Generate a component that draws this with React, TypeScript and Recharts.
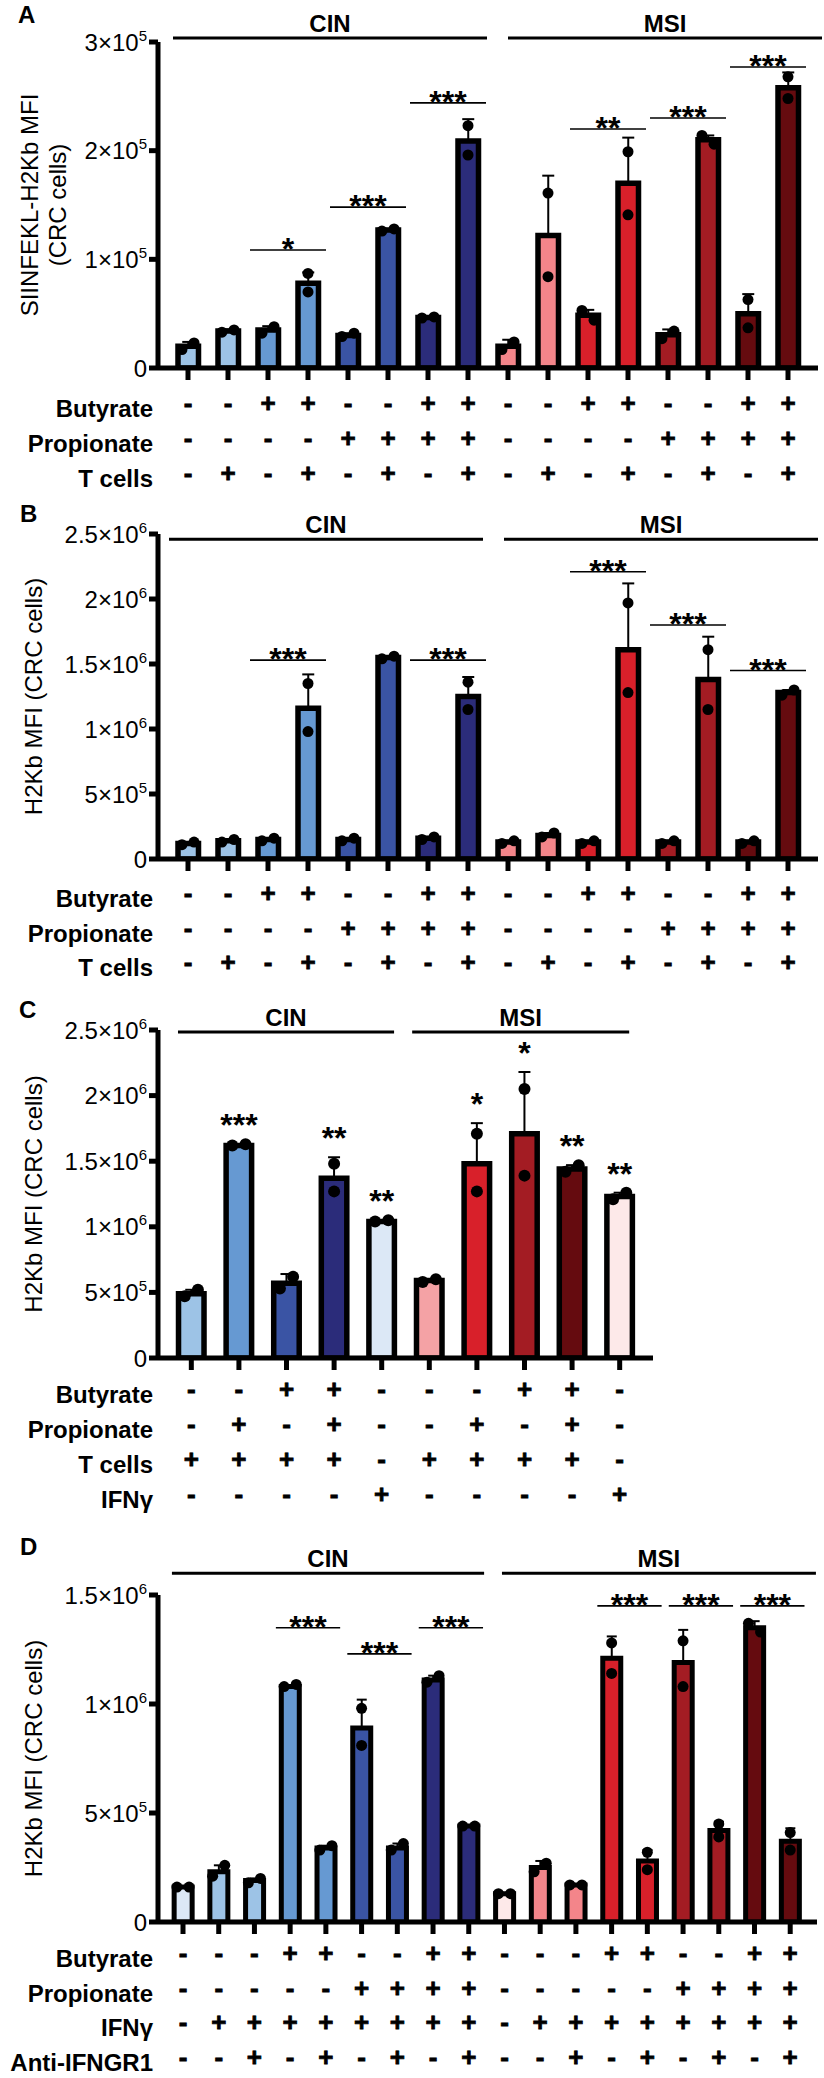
import React from 'react';
import {
  ComposedChart,
  Bar,
  Cell,
  ErrorBar,
  Scatter,
  XAxis,
  YAxis,
  ReferenceLine,
} from 'recharts';

const FONT = '"Liberation Sans", Arial, Helvetica, sans-serif';

const PALE_BLUE = '#dce8f6';
const LIGHT_BLUE = '#9dc3e6';
const MID_BLUE = '#6699d2';
const ROYAL = '#3a54a4';
const NAVY = '#2b2c7a';
const PALE_PINK = '#fde9e9';
const PINK = '#f4a2a5';
const SALMON = '#f3858a';
const RED = '#d8202a';
const DARK_RED = '#a31c23';
const MAROON = '#650b0f';

// ---- panel A: SIINFEKL-H2Kb ----
const meanA = [20000, 34000, 35000, 78000, 30000, 127000, 46500, 209000, 20000, 122000, 48500, 170000, 30500, 210000, 50000, 258000];
const errA = [4000, 1500, 3500, 10000, 2000, 1000, 500, 20000, 6000, 55000, 5000, 42000, 5000, 4000, 18000, 14000];
const dotA1 = [17000, 33000, 32000, 87000, 29000, 126000, 46000, 223000, 17000, 161000, 53000, 199000, 27000, 214000, 63000, 268000];
const dotA2 = [23000, 35000, 38000, 70000, 32000, 128000, 47000, 196000, 24000, 84000, 44000, 141000, 34000, 206000, 37000, 248000];
const colorsA = [LIGHT_BLUE, LIGHT_BLUE, MID_BLUE, MID_BLUE, ROYAL, ROYAL, NAVY, NAVY, SALMON, SALMON, RED, RED, DARK_RED, DARK_RED, MAROON, MAROON];
const sigPairsA = [[3, 4], [5, 6], [7, 8], [11, 12], [13, 14], [15, 16]];
const sigTextA = ['*', '***', '***', '**', '***', '***'];
const sigLevelA = [108600, 148000, 244000, 220000, 230000, 277000];

// ---- panel B: H2Kb ----
const meanB = [120000, 140000, 150000, 1160000, 150000, 1550000, 160000, 1250000, 130000, 180000, 130000, 1610000, 130000, 1380000, 130000, 1280000];
const errB = [10000, 10000, 10000, 260000, 10000, 10000, 10000, 150000, 10000, 20000, 10000, 510000, 10000, 330000, 10000, 20000];
const dotB1 = [110000, 130000, 140000, 1350000, 140000, 1540000, 150000, 1360000, 120000, 170000, 120000, 1970000, 120000, 1610000, 120000, 1260000];
const dotB2 = [130000, 150000, 160000, 980000, 160000, 1560000, 170000, 1150000, 140000, 200000, 140000, 1280000, 140000, 1150000, 140000, 1300000];
const sigPairsB = [[3, 4], [7, 8], [11, 12], [13, 14], [15, 16]];
const sigTextB = ['***', '***', '***', '***', '***'];
const sigLevelB = [1530000, 1530000, 2210000, 1800000, 1450000];

const butyrate16 = ['-', '-', '+', '+', '-', '-', '+', '+', '-', '-', '+', '+', '-', '-', '+', '+'];
const propionate16 = ['-', '-', '-', '-', '+', '+', '+', '+', '-', '-', '-', '-', '+', '+', '+', '+'];
const tcells16 = ['-', '+', '-', '+', '-', '+', '-', '+', '-', '+', '-', '+', '-', '+', '-', '+'];

// ---- panel C: H2Kb with IFNg control ----
const meanC = [490000, 1620000, 570000, 1370000, 1040000, 590000, 1480000, 1710000, 1440000, 1230000];
const errC = [30000, 5000, 70000, 160000, 5000, 10000, 310000, 470000, 30000, 30000];
const dotC1 = [470000, 1620000, 530000, 1480000, 1040000, 580000, 1710000, 2050000, 1420000, 1210000];
const dotC2 = [520000, 1630000, 620000, 1270000, 1050000, 600000, 1270000, 1390000, 1470000, 1260000];
const colorsC = [LIGHT_BLUE, MID_BLUE, ROYAL, NAVY, PALE_BLUE, PINK, RED, DARK_RED, MAROON, PALE_PINK];
const starsC = ['', '***', '', '**', '**', '', '*', '*', '**', '**'];
const butyrateC = ['-', '-', '+', '+', '-', '-', '-', '+', '+', '-'];
const propionateC = ['-', '+', '-', '+', '-', '-', '+', '-', '+', '-'];
const tcellsC = ['+', '+', '+', '+', '-', '+', '+', '+', '+', '-'];
const ifngC = ['-', '-', '-', '-', '+', '-', '-', '-', '-', '+'];

// ---- panel D: H2Kb with anti-IFNGR1 ----
const meanD = [160000, 230000, 190000, 1080000, 340000, 890000, 340000, 1110000, 440000, 130000, 250000, 170000, 1210000, 280000, 1190000, 420000, 1350000, 370000];
const errD = [3000, 30000, 10000, 5000, 10000, 130000, 20000, 20000, 3000, 3000, 30000, 3000, 100000, 50000, 150000, 40000, 30000, 60000];
const dotD1 = [160000, 210000, 180000, 1080000, 330000, 980000, 330000, 1100000, 440000, 130000, 230000, 170000, 1280000, 320000, 1290000, 450000, 1370000, 410000];
const dotD2 = [160000, 260000, 200000, 1090000, 350000, 810000, 360000, 1130000, 440000, 130000, 270000, 170000, 1140000, 240000, 1080000, 390000, 1330000, 330000];
const colorsD = [PALE_BLUE, LIGHT_BLUE, LIGHT_BLUE, MID_BLUE, MID_BLUE, ROYAL, ROYAL, NAVY, NAVY, PALE_PINK, SALMON, SALMON, RED, RED, DARK_RED, DARK_RED, MAROON, MAROON];
const sigPairsD = [[4, 5], [6, 7], [8, 9], [13, 14], [15, 16], [17, 18]];
const sigTextD = ['***', '***', '***', '***', '***', '***'];
const sigLevelD = [1350000, 1230000, 1350000, 1450000, 1450000, 1450000];
const butyrateD = ['-', '-', '-', '+', '+', '-', '-', '+', '+', '-', '-', '-', '+', '+', '-', '-', '+', '+'];
const propionateD = ['-', '-', '-', '-', '-', '+', '+', '+', '+', '-', '-', '-', '-', '-', '+', '+', '+', '+'];
const ifngD = ['-', '+', '+', '+', '+', '+', '+', '+', '+', '-', '+', '+', '+', '+', '+', '+', '+', '+'];
const antiD = ['-', '-', '+', '-', '+', '-', '+', '-', '+', '-', '-', '+', '-', '+', '-', '+', '-', '+'];

const groupNames = ['CIN', 'MSI'];

type Row = { label: string; marks: string[] };

type PanelProps = {
  top: number;
  height: number;
  marginTop: number;
  marginRight: number;
  axisHeight: number;
  means: number[];
  errs: number[];
  dots1: number[];
  dots2: number[];
  colors: string[];
  yMax: number;
  yTicks: number[];
  xDomain: [number, number];
  barSize: number;
  borderW: number;
  dotR: number;
  capW: number;
  rows: Row[];
  rowFirst: number;
  rowGap: number;
  title: string[];
  titleX: number[];
  sigPairs?: number[][];
  sigText?: string[];
  sigLevels?: number[];
  sigPad: number;
  groupSpans: number[][];
  groupLevel: number;
  stars?: string[];
};

const sci = (v: number): [string, number | null] => {
  if (v === 0) return ['0', null];
  const e = Math.floor(Math.log10(v) + 1e-9);
  const m = v / Math.pow(10, e);
  return [String(+m.toFixed(1)), e];
};

const YTick = (props: any) => {
  const { x, y, payload } = props;
  const [m, e] = sci(payload.value);
  return (
    <text x={x} y={y + 8.5} textAnchor="end" fontSize={24} fill="#000" fontFamily={FONT}>
      {e === null ? m : (
        <>
          {m}×10
          <tspan fontSize={15} dy={-10}>{e}</tspan>
        </>
      )}
    </text>
  );
};

const makeXTick = (rows: Row[], first: number, gap: number, tickSize: number) => (props: any) => {
  const { x, y, payload } = props;
  const i = payload.value - 1;
  const axisY = y - tickSize - 2;
  return (
    <g>
      {rows.map((r, k) => {
        const base = axisY + first + k * gap;
        return (
          <g key={k}>
            {i === 0 && (
              <text x={153} y={base} textAnchor="end" fontSize={24} fontWeight="bold" fill="#000" fontFamily={FONT}>
                {r.label}
              </text>
            )}
            <text
              x={x}
              y={base - 5}
              textAnchor="middle"
              fontSize={26}
              fontWeight="bold"
              fill="#000"
              stroke="#000"
              strokeWidth={0.8}
              fontFamily={FONT}
            >
              {r.marks[i]}
            </text>
          </g>
        );
      })}
    </g>
  );
};

const makeYTitle = (lines: string[], xs: number[]) => (props: any) => {
  const vb = props.viewBox || { x: 0, y: 0, width: 0, height: 0 };
  const cy = vb.y + vb.height / 2;
  return (
    <g>
      {lines.map((t, k) => (
        <text
          key={k}
          x={xs[k]}
          y={cy}
          transform={`rotate(-90 ${xs[k]} ${cy})`}
          textAnchor="middle"
          dominantBaseline="central"
          fontSize={24}
          fill="#000"
          fontFamily={FONT}
        >
          {t}
        </text>
      ))}
    </g>
  );
};

const dotShape = (side: number, r: number, pxPerUnit: number) => (props: any) => {
  const { cx, cy, payload } = props;
  if (cx == null || cy == null) return <g />;
  const close = Math.abs(payload.p1 - payload.p2) * pxPerUnit < 2 * r;
  const dx = close ? side * r * 1.1 : 0;
  return <circle cx={cx + dx} cy={cy} r={r} fill="#000" />;
};

const starShape = (props: any) => {
  const { cx, cy, payload } = props;
  if (!payload.star || cx == null) return <g />;
  return (
    <text x={cx} y={cy - 8} textAnchor="middle" fontSize={32} fontWeight="bold" fill="#000" fontFamily={FONT}>
      {payload.star}
    </text>
  );
};

const sigLabel = (text: string) => (props: any) => {
  const vb = props.viewBox;
  return (
    <text x={vb.x + vb.width / 2} y={vb.y + 10} textAnchor="middle" fontSize={32} fontWeight="bold" fill="#000" fontFamily={FONT}>
      {text}
    </text>
  );
};

const groupLabel = (text: string) => (props: any) => {
  const vb = props.viewBox;
  return (
    <text x={vb.x + vb.width / 2} y={vb.y - 6} textAnchor="middle" fontSize={24} fontWeight="bold" fill="#000" fontFamily={FONT}>
      {text}
    </text>
  );
};

const Panel = (p: PanelProps) => {
  const data = p.means.map((m, i) => ({
    x: i + 1,
    mean: m,
    err: [0, p.errs[i]],
    p1: p.dots1[i],
    p2: p.dots2[i],
    top: Math.max(m + p.errs[i], p.dots1[i], p.dots2[i]),
    star: p.stars ? p.stars[i] : '',
  }));
  const plotH = p.height - p.marginTop - p.axisHeight;
  const pxPerUnit = plotH / p.yMax;
  const xTicks = data.map((d) => d.x);
  const xTickSize = 12;
  const axisStyle = { stroke: '#000', strokeWidth: 5 };

  return (
    <div style={{ position: 'absolute', left: 0, top: p.top }}>
      <ComposedChart
        width={824}
        height={p.height}
        data={data}
        margin={{ top: p.marginTop, right: p.marginRight, bottom: 0, left: 0 }}
      >
        <XAxis
          type="number"
          dataKey="x"
          domain={p.xDomain}
          ticks={xTicks}
          interval={0}
          allowDataOverflow
          height={p.axisHeight}
          axisLine={axisStyle}
          tickLine={axisStyle}
          tickSize={xTickSize}
          tick={makeXTick(p.rows, p.rowFirst, p.rowGap, xTickSize)}
        />
        <YAxis
          type="number"
          domain={[0, p.yMax]}
          ticks={p.yTicks}
          interval={0}
          allowDataOverflow
          width={158}
          axisLine={axisStyle}
          tickLine={axisStyle}
          tickSize={9}
          tick={YTick}
          label={makeYTitle(p.title, p.titleX)}
        />
        <Bar dataKey="mean" barSize={p.barSize} stroke="#000" strokeWidth={p.borderW} isAnimationActive={false}>
          {data.map((d, i) => (
            <Cell key={i} fill={p.colors[i]} />
          ))}
          <ErrorBar dataKey="err" width={p.capW} stroke="#000" strokeWidth={2} direction="y" />
        </Bar>
        <Scatter dataKey="p1" shape={dotShape(-1, p.dotR, pxPerUnit)} isAnimationActive={false} />
        <Scatter dataKey="p2" shape={dotShape(1, p.dotR, pxPerUnit)} isAnimationActive={false} />
        {p.stars && <Scatter dataKey="top" shape={starShape} isAnimationActive={false} />}
        {(p.sigPairs || []).map((pair, k) => (
          <ReferenceLine
            key={`sig${k}`}
            segment={[
              { x: pair[0] - p.sigPad, y: p.sigLevels![k] },
              { x: pair[1] + p.sigPad, y: p.sigLevels![k] },
            ]}
            stroke="#000"
            strokeWidth={1.6}
            ifOverflow="visible"
            label={sigLabel(p.sigText![k])}
          />
        ))}
        {p.groupSpans.map((span, k) => (
          <ReferenceLine
            key={`grp${k}`}
            segment={[
              { x: span[0], y: p.groupLevel },
              { x: span[1], y: p.groupLevel },
            ]}
            stroke="#000"
            strokeWidth={3}
            ifOverflow="visible"
            label={groupLabel(groupNames[k])}
          />
        ))}
      </ComposedChart>
    </div>
  );
};

const letters = [
  { t: 'A', x: 18, y: 23 },
  { t: 'B', x: 20, y: 522 },
  { t: 'C', x: 19, y: 1018 },
  { t: 'D', x: 20, y: 1555 },
];

export default function App() {
  return (
    <div style={{ position: 'absolute', left: 0, top: 0, width: 824, height: 2078, background: '#fff', fontFamily: FONT }}>
      <Panel
        top={0}
        height={500}
        marginTop={42}
        marginRight={6}
        axisHeight={132}
        means={meanA}
        errs={errA}
        dots1={dotA1}
        dots2={dotA2}
        colors={colorsA}
        yMax={300000}
        yTicks={[0, 100000, 200000, 300000]}
        xDomain={[0.25, 16.75]}
        barSize={20.5}
        borderW={5.5}
        dotR={5.5}
        capW={6}
        rows={[
          { label: 'Butyrate', marks: butyrate16 },
          { label: 'Propionate', marks: propionate16 },
          { label: 'T cells', marks: tcells16 },
        ]}
        rowFirst={49}
        rowGap={35}
        title={['SIINFEKL-H2Kb MFI', '(CRC cells)']}
        titleX={[29, 57]}
        sigPairs={sigPairsA}
        sigText={sigTextA}
        sigLevels={sigLevelA}
        sigPad={0.45}
        groupSpans={[[0.625, 8.475], [9.0, 16.85]]}
        groupLevel={303700}
      />
      <Panel
        top={500}
        height={500}
        marginTop={34}
        marginRight={6}
        axisHeight={141}
        means={meanB}
        errs={errB}
        dots1={dotB1}
        dots2={dotB2}
        colors={colorsA}
        yMax={2500000}
        yTicks={[0, 500000, 1000000, 1500000, 2000000, 2500000]}
        xDomain={[0.25, 16.75]}
        barSize={20.5}
        borderW={5.5}
        dotR={5.5}
        capW={6}
        rows={[
          { label: 'Butyrate', marks: butyrate16 },
          { label: 'Propionate', marks: propionate16 },
          { label: 'T cells', marks: tcells16 },
        ]}
        rowFirst={48}
        rowGap={34.5}
        title={['H2Kb MFI (CRC cells)']}
        titleX={[33]}
        sigPairs={sigPairsB}
        sigText={sigTextB}
        sigLevels={sigLevelB}
        sigPad={0.45}
        groupSpans={[[0.525, 8.375], [8.9, 16.75]]}
        groupLevel={2460000}
      />
      <Panel
        top={1000}
        height={540}
        marginTop={30}
        marginRight={171}
        axisHeight={182}
        means={meanC}
        errs={errC}
        dots1={dotC1}
        dots2={dotC2}
        colors={colorsC}
        yMax={2500000}
        yTicks={[0, 500000, 1000000, 1500000, 2000000, 2500000]}
        xDomain={[0.3, 10.7]}
        barSize={25.5}
        borderW={5.5}
        dotR={6}
        capW={6}
        rows={[
          { label: 'Butyrate', marks: butyrateC },
          { label: 'Propionate', marks: propionateC },
          { label: 'T cells', marks: tcellsC },
          { label: 'IFNγ', marks: ifngC },
        ]}
        rowFirst={45}
        rowGap={35}
        title={['H2Kb MFI (CRC cells)']}
        titleX={[33]}
        sigPad={0.45}
        groupSpans={[[0.72, 5.26], [5.64, 10.2]]}
        groupLevel={2485000}
        stars={starsC}
      />
      <Panel
        top={1540}
        height={538}
        marginTop={55}
        marginRight={7}
        axisHeight={156}
        means={meanD}
        errs={errD}
        dots1={dotD1}
        dots2={dotD2}
        colors={colorsD}
        yMax={1500000}
        yTicks={[0, 500000, 1000000, 1500000]}
        xDomain={[0.3, 18.75]}
        barSize={18}
        borderW={5}
        dotR={5.5}
        capW={5}
        rows={[
          { label: 'Butyrate', marks: butyrateD },
          { label: 'Propionate', marks: propionateD },
          { label: 'IFNγ', marks: ifngD },
          { label: 'Anti-IFNGR1', marks: antiD },
        ]}
        rowFirst={45}
        rowGap={34.5}
        title={['H2Kb MFI (CRC cells)']}
        titleX={[33]}
        sigPairs={sigPairsD}
        sigText={sigTextD}
        sigLevels={sigLevelD}
        sigPad={0.4}
        groupSpans={[[0.69, 9.43], [9.93, 18.72]]}
        groupLevel={1600000}
      />
      <svg width={824} height={2078} style={{ position: 'absolute', left: 0, top: 0, pointerEvents: 'none' }}>
        {letters.map((l) => (
          <text key={l.t} x={l.x} y={l.y} fontSize={24} fontWeight="bold" fill="#000" fontFamily={FONT}>
            {l.t}
          </text>
        ))}
      </svg>
    </div>
  );
}
